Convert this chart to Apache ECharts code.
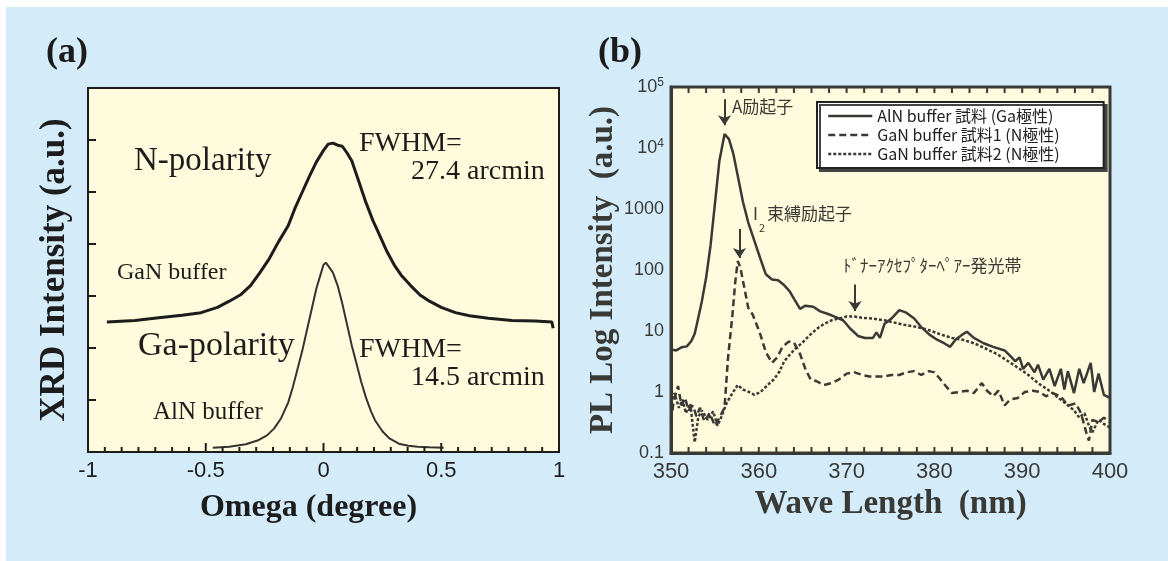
<!DOCTYPE html>
<html>
<head>
<meta charset="utf-8">
<script src="https://cdn.jsdelivr.net/npm/echarts@6/dist/echarts.min.js"></script>
<style>
html,body{margin:0;padding:0;background:#fff;}
#wrap{position:relative;width:1168px;height:561px;overflow:hidden;}
#panel{position:absolute;left:6px;top:7px;right:0;bottom:0;background:#d4ecfa;}
#chart{position:absolute;left:0;top:0;width:1168px;height:561px;}
</style>
</head>
<body>
<div id="wrap"><div id="panel"></div><div id="chart"></div></div>
<script>
// (a) XRD rocking curves
var nOmega = [-0.92,-0.8,-0.7,-0.6,-0.52,-0.45,-0.4,-0.35,-0.31,-0.27,-0.23,-0.19,-0.15,-0.12,-0.09,-0.06,-0.03,0.0,0.02,0.04,0.06,0.08,0.1,0.12,0.15,0.18,0.21,0.24,0.27,0.3,0.33,0.37,0.41,0.45,0.5,0.56,0.62,0.7,0.8,0.9,0.97,0.975];
var nInt   = [2.5,2.53,2.58,2.63,2.68,2.78,2.9,3.03,3.2,3.45,3.72,4.05,4.35,4.7,5.0,5.3,5.58,5.8,5.92,5.94,5.9,5.88,5.75,5.6,5.2,4.8,4.45,4.15,3.85,3.6,3.4,3.2,3.02,2.9,2.78,2.68,2.62,2.57,2.53,2.52,2.5,2.38];
var gaOmega = [-0.47,-0.4,-0.33,-0.28,-0.24,-0.21,-0.18,-0.15,-0.13,-0.11,-0.09,-0.07,-0.05,-0.03,-0.01,0.0,0.01,0.02,0.04,0.06,0.08,0.1,0.12,0.14,0.16,0.18,0.2,0.22,0.25,0.28,0.32,0.36,0.4,0.45,0.51];
var gaInt   = [0.08,0.1,0.15,0.22,0.32,0.45,0.65,0.95,1.25,1.6,1.95,2.35,2.75,3.15,3.45,3.6,3.64,3.58,3.45,3.2,2.85,2.45,2.05,1.7,1.35,1.05,0.8,0.6,0.4,0.26,0.16,0.12,0.1,0.09,0.08];

// (b) PL spectra
var alnWl = [350.0,350.6,351.2,351.8,352.3,352.7,353.0,353.5,354.0,354.5,355.0,355.5,356.1,356.6,357.1,357.6,358.2,358.8,359.5,360.2,360.8,361.5,362.2,362.8,363.5,364.1,364.7,365.3,366.2,367.0,367.9,368.7,369.6,370.4,371.3,372.1,373.0,373.4,373.8,374.3,375.1,376.0,376.8,377.7,378.5,379.4,380.3,381.1,381.8,382.4,383.2,383.7,384.5,385.6,386.7,388.0,388.8,389.2,389.7,390.1,390.7,391.4,391.8,392.4,393.1,393.7,394.4,394.8,395.2,395.9,396.5,397.0,397.8,398.2,398.7,399.3,400];
var alnPL = [5.0,4.8,5.4,5.6,6.8,9,14,30,75,250,1200,6000,17000,14000,8000,3500,1300,600,300,150,85,70,68,58,45,32,23,26,25,21,19,17,15,11,8.3,7.7,7.7,9.5,7.7,13,16,22,20,16,11.6,8.8,7.2,6.3,5.5,7.2,8.8,9.7,7.7,6.3,5.5,4.8,3.7,3.2,3.7,2.4,3.0,2.1,2.8,1.6,2.4,1.25,2.4,1.1,2.2,0.96,2.4,1.4,3.0,1.0,2.0,0.9,0.8];
var gan1Wl = [350.0,350.3,350.8,351.2,351.6,352.0,352.5,352.9,353.3,353.8,354.4,355.0,355.6,356.1,356.5,357.0,357.3,357.6,357.9,358.4,358.8,359.3,360.1,360.8,361.5,362.1,362.7,363.4,364.0,364.7,365.3,365.9,366.6,367.4,368.3,369.1,370.0,370.9,371.8,372.6,373.5,374.3,375.1,376.0,376.8,377.7,378.5,379.4,380.0,380.7,381.3,382.0,382.8,383.7,384.5,385.4,386.0,386.7,387.3,388.0,388.6,389.5,390.3,391.2,392.0,392.7,393.5,394.4,395.2,396.1,396.7,397.4,397.6,398.0,398.7,399.3,400];
var gan1PL = [0.33,0.7,1.25,0.6,0.8,0.5,0.6,0.4,0.55,0.33,0.45,0.28,0.4,0.56,3.7,18.6,60,140,110,47,24,18.6,9.5,4.5,3.0,3.7,5.5,6.7,6.5,4.2,2.4,1.6,1.5,1.3,1.4,1.6,2.0,2.1,1.9,1.8,1.8,1.8,1.9,1.9,2.1,2.2,1.9,2.2,2.1,1.6,1.25,0.96,1.0,1.05,0.96,1.4,1.05,0.85,1.05,0.6,0.75,0.8,1.0,1.05,1.0,0.85,0.96,0.85,0.6,0.65,0.45,0.19,0.16,0.35,0.32,0.38,0.32];
var gan2Wl = [350.0,350.4,350.9,351.3,351.7,352.2,352.7,353.1,353.5,354.2,354.8,355.3,355.7,356.3,357.0,357.6,358.2,358.9,359.5,360.2,361.0,361.7,362.3,362.9,363.6,364.2,364.9,365.7,366.6,367.4,368.3,369.1,370.0,370.9,371.7,373.0,374.3,375.6,376.8,378.1,379.4,380.7,382.0,383.2,384.5,385.8,387.1,388.4,389.7,390.7,391.8,392.9,393.9,395.0,395.9,396.5,397.1,397.6,398.0,398.7,399.3,400];
var gan2PL = [0.64,0.96,0.55,0.75,0.45,0.64,0.15,0.38,0.5,0.35,0.48,0.28,0.38,0.64,0.96,1.3,1.1,1.0,0.9,1.0,1.3,1.6,2.1,3.2,4.2,5.2,6.3,8.3,10.8,13,15,16,17.3,17.3,16.5,16,15,13.6,12.4,11.6,10.3,8.8,7.7,7.2,6.3,5.2,4.2,3.2,2.4,1.9,1.4,1.1,0.85,0.64,0.5,0.38,0.45,0.28,0.22,0.35,0.3,0.26];

var seriesNames = ['AlN buffer 試料 (Ga極性)', 'GaN buffer 試料1 (N極性)', 'GaN buffer 試料2 (N極性)'];

function pairs(xs, ys) { return xs.map(function (x, i) { return [x, ys[i]]; }); }

var serif = 'Liberation Serif';
var sans = 'Liberation Sans';
var jp = 'Noto Sans CJK JP';
var inkA = '#1c1c1c';
var inkB = '#393a36';

function arrow(x, y1, y2) {
    return {
        silent: true,
        symbol: ['none', 'arrow'],
        symbolSize: 10,
        label: { show: false },
        lineStyle: { color: inkB, width: 2, type: 'solid' },
        data: [[{ coord: [x, y1] }, { coord: [x, y2] }]]
    };
}

function txt(x, y, s, size, font, color, weight) {
    return {
        type: 'text', left: x, top: y - size * 0.6, silent: true,
        style: { text: s, fontSize: size, fontFamily: font, fill: color || inkA, fontWeight: weight || 'normal' }
    };
}

var chart = echarts.init(document.getElementById('chart'));
chart.setOption({
    animation: false,
    backgroundColor: 'transparent',
    grid: [
        { left: 88, top: 88, width: 471, height: 364, show: true, backgroundColor: '#fffbdc', borderColor: inkA, borderWidth: 2 },
        { left: 671, top: 87, width: 439, height: 366, show: true, backgroundColor: '#fffbdc', borderColor: inkB, borderWidth: 3 }
    ],
    xAxis: [
        {
            gridIndex: 0, type: 'value', min: -1, max: 1, interval: 0.5,
            name: 'Omega (degree)', nameLocation: 'middle', nameGap: 40,
            nameTextStyle: { fontFamily: serif, fontWeight: 'bold', fontSize: 32, color: inkA, padding: [0, 30, 0, 0] },
            axisLine: { onZero: false, lineStyle: { color: inkA, width: 2 } },
            axisTick: { show: false },
            splitLine: { show: false },
            axisLabel: { fontFamily: sans, fontSize: 22, color: inkA, margin: 8 }
        },
        {
            gridIndex: 1, type: 'value', min: 350, max: 400, interval: 10,
            name: 'Wave Length  (nm)', nameLocation: 'middle', nameGap: 29,
            nameTextStyle: { fontFamily: serif, fontWeight: 'bold', fontSize: 33, color: inkB },
            axisLine: { onZero: false, lineStyle: { color: inkB, width: 3 } },
            axisTick: { show: false },
            splitLine: { show: false },
            axisLabel: { fontFamily: sans, fontSize: 22, color: inkB, margin: 8 }
        }
    ],
    yAxis: [
        {
            gridIndex: 0, type: 'value', min: 0, max: 7, interval: 1,
            name: 'XRD Intensity (a.u.)', nameLocation: 'middle', nameGap: 16, nameRotate: 90,
            nameTextStyle: { fontFamily: serif, fontWeight: 'bold', fontSize: 35, color: inkA },
            axisLine: { onZero: false, lineStyle: { color: inkA, width: 2 } },
            axisTick: { show: false },
            splitLine: { show: false },
            axisLabel: { show: false }
        },
        {
            gridIndex: 1, type: 'log', logBase: 10, min: 0.1, max: 100000, interval: 1,
            name: 'PL Log Intensity  (a.u.)', nameLocation: 'middle', nameGap: 46, nameRotate: 90,
            nameTextStyle: { fontFamily: serif, fontWeight: 'bold', fontSize: 33, color: inkB },
            axisLine: { onZero: false, lineStyle: { color: inkB, width: 3 } },
            axisTick: { show: false },
            splitLine: { show: false },
            axisLabel: {
                fontFamily: sans, fontSize: 18, color: inkB, margin: 7,
                formatter: function (v) {
                    var e = Math.round(Math.log10(v));
                    if (e >= 4) return '{b|10}{s|' + e + '}';
                    if (e < 0) return '0.1';
                    return String(Math.pow(10, e));
                },
                rich: {
                    b: { fontFamily: sans, fontSize: 18, color: inkB },
                    s: { fontFamily: sans, fontSize: 12, color: inkB, verticalAlign: 'top', padding: [0, 0, 8, 0] }
                }
            }
        }
    ],
    legend: {
        data: seriesNames,
        orient: 'vertical', left: 817, top: 102,
        padding: [6, 44, 6, 10], itemGap: 3, itemWidth: 44, itemHeight: 14, itemTextGap: 8,
        backgroundColor: '#ffffff', borderColor: '#222', borderWidth: 2, borderRadius: 0,
        shadowColor: '#444', shadowBlur: 0, shadowOffsetX: 3, shadowOffsetY: 3,
        selectedMode: false,
        itemStyle: { opacity: 0 },
        lineStyle: { width: 2.5 },
        textStyle: { fontFamily: jp, fontSize: 16, color: '#222', lineHeight: 16 }
    },
    series: [
        { name: 'N-polarity', type: 'line', xAxisIndex: 0, yAxisIndex: 0, symbol: 'none',
          lineStyle: { color: inkA, width: 3 }, data: pairs(nOmega, nInt) },
        { name: 'Ga-polarity', type: 'line', xAxisIndex: 0, yAxisIndex: 0, symbol: 'none',
          lineStyle: { color: '#333', width: 2 }, data: pairs(gaOmega, gaInt) },
        { name: seriesNames[0], type: 'line', xAxisIndex: 1, yAxisIndex: 1, symbol: 'none',
          color: inkB, lineStyle: { color: inkB, width: 2.5, type: 'solid' }, data: pairs(alnWl, alnPL),
          markLine: arrow(356.1, 63000, 23500) },
        { name: seriesNames[1], type: 'line', xAxisIndex: 1, yAxisIndex: 1, symbol: 'none',
          color: inkB, lineStyle: { color: inkB, width: 2.5, type: [7, 4] }, data: pairs(gan1Wl, gan1PL),
          markLine: arrow(357.8, 470, 157) },
        { name: seriesNames[2], type: 'line', xAxisIndex: 1, yAxisIndex: 1, symbol: 'none',
          color: inkB, lineStyle: { color: inkB, width: 2.5, type: [3, 2] }, data: pairs(gan2Wl, gan2PL),
          markLine: arrow(370.96, 57.8, 21.3) }
    ]
});

// inward ticks as thin filled rects, placed through the axes' own scales
var marks = [];
function tick(p, w, h, color) {
    marks.push({
        type: 'rect', silent: true, z: 10,
        shape: { x: w < 0 ? p[0] + w : p[0] - (w === 2 ? 1 : 0), y: h < 0 ? p[1] + h : p[1] - (h === 2 ? 1 : 0), width: Math.abs(w), height: Math.abs(h) },
        style: { fill: color }
    });
}
for (var k = 1; k < 28; k++) {
    var pa = chart.convertToPixel({ gridIndex: 0 }, [-1 + k / 14, 0]);
    tick(pa, 2, k % 7 === 0 ? -9 : -5, inkA);
}
for (var j = 1; j < 7; j++) {
    tick(chart.convertToPixel({ gridIndex: 0 }, [-1, j]), 8, 2, inkA);
}
for (var w = 352; w < 400; w += 2) {
    tick(chart.convertToPixel({ gridIndex: 1 }, [w, 0.1]), 2, -6, inkB);
    tick(chart.convertToPixel({ gridIndex: 1 }, [w, 100000]), 2, 6, inkB);
}

chart.setOption({
    graphic: marks.concat([
        txt(46, 56, '(a)', 36, serif, inkA, 'bold'),
        txt(598, 56, '(b)', 36, serif, inkA, 'bold'),
        txt(134, 165, 'N-polarity', 33, serif),
        txt(359, 146, 'FWHM=', 28, serif),
        txt(411, 174, '27.4 arcmin', 28, serif),
        txt(117, 275, 'GaN buffer', 24, serif),
        txt(138, 349, 'Ga-polarity', 34, serif),
        txt(359, 352, 'FWHM=', 28, serif),
        txt(411, 380, '14.5 arcmin', 28, serif),
        txt(153, 415, 'AlN buffer', 25, serif),
        txt(732, 108, 'A励起子', 17, jp, inkB),
        txt(753, 215, 'I', 17, jp, inkB),
        txt(759, 229, '2', 11, jp, inkB),
        txt(767, 215, '束縛励起子', 17, jp, inkB),
        txt(843, 267, 'ﾄﾞﾅｰｱｸｾﾌﾟﾀｰﾍﾟｱｰ発光帯', 17, jp, inkB)
    ])
});
</script>
</body>
</html>
